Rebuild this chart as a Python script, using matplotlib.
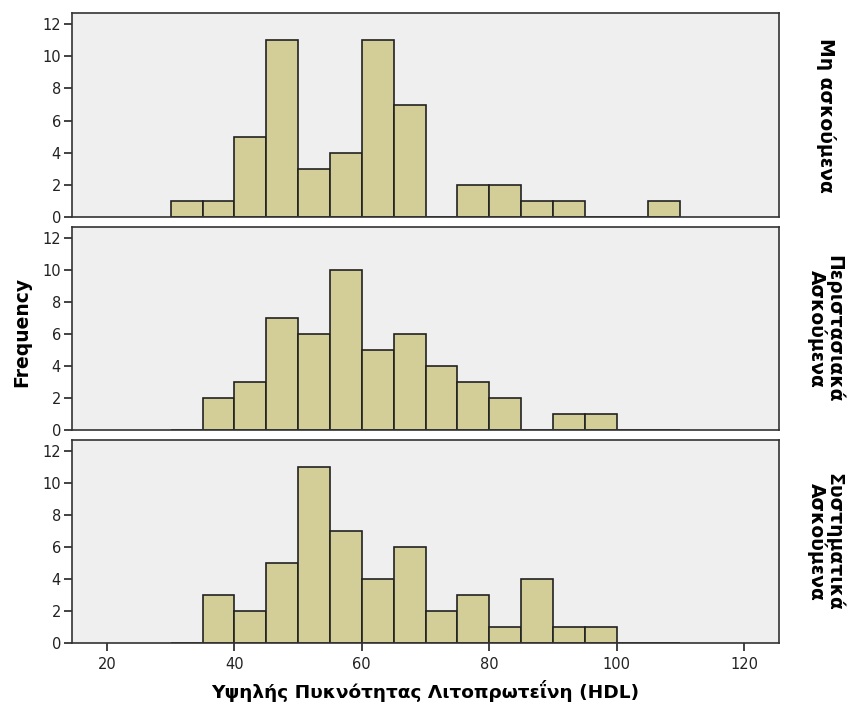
import matplotlib.pyplot as plt

# bin left edges (width 5) and counts per group
bin_left = [30, 35, 40, 45, 50, 55, 60, 65, 70, 75, 80, 85, 90, 95, 100, 105]
bin_width = 5

groups = ['Μη ασκούμενα', 'Περιστασιακά\nΑσκούμενα', 'Συστηματικά\nΑσκούμενα']
counts_none = [1, 1, 5, 11, 3, 4, 11, 7, 0, 2, 2, 1, 1, 0, 0, 1]
counts_occasional = [0, 2, 3, 7, 6, 10, 5, 6, 4, 3, 2, 0, 1, 1, 0, 0]
counts_systematic = [0, 3, 2, 5, 11, 7, 4, 6, 2, 3, 1, 4, 1, 1, 0, 0]
all_counts = [counts_none, counts_occasional, counts_systematic]

x_ticks = [20, 40, 60, 80, 100, 120]
y_ticks = [0, 2, 4, 6, 8, 10, 12]

bar_color = '#d3ce97'
face_color = '#efefef'
edge_color = '#222222'

fig = plt.figure(figsize=(8.51, 7.15), dpi=100)

W, H = 851, 715
left, right = 72, 779
tops = [13, 227, 440]
bottoms = [217, 430, 643]

axes = []
for i in range(3):
    ax = fig.add_axes([left / W, 1 - bottoms[i] / H, (right - left) / W,
                       (bottoms[i] - tops[i]) / H])
    axes.append(ax)
    ax.set_facecolor(face_color)
    ax.bar(bin_left, all_counts[i], width=bin_width, align='edge',
           color=bar_color, edgecolor=edge_color, linewidth=1.2, zorder=2)
    ax.set_xlim(14.5, 125.5)
    ax.set_ylim(0, 12.7)
    ax.set_yticks(y_ticks)
    ax.set_xticks(x_ticks)
    for sp in ax.spines.values():
        sp.set_color('#333333')
        sp.set_linewidth(1.2)
    ax.tick_params(axis='y', direction='out', length=6, width=1.2,
                   labelsize=10.5, colors='#222222', pad=2)
    ax.tick_params(axis='x', direction='out', length=6, width=1.2,
                   labelsize=10.5, colors='#222222', pad=4)
    if i < 2:
        ax.tick_params(axis='x', length=0, labelbottom=False)
    ax.text(1.066, 0.5, groups[i], transform=ax.transAxes, rotation=-90,
            ha='center', va='center', fontsize=13.5, fontweight='bold',
            linespacing=0.85)

fig.text(22 / W, 1 - 332 / H, 'Frequency', rotation=90, ha='center',
         va='center', fontsize=13.5, fontweight='bold')
fig.text(425 / W, 1 - 691 / H, 'Υψηλής Πυκνότητας Λιτοπρωτεΐνη (HDL)',
         ha='center', va='center', fontsize=13.3, fontweight='bold')

fig.savefig('out.png', dpi=100)
